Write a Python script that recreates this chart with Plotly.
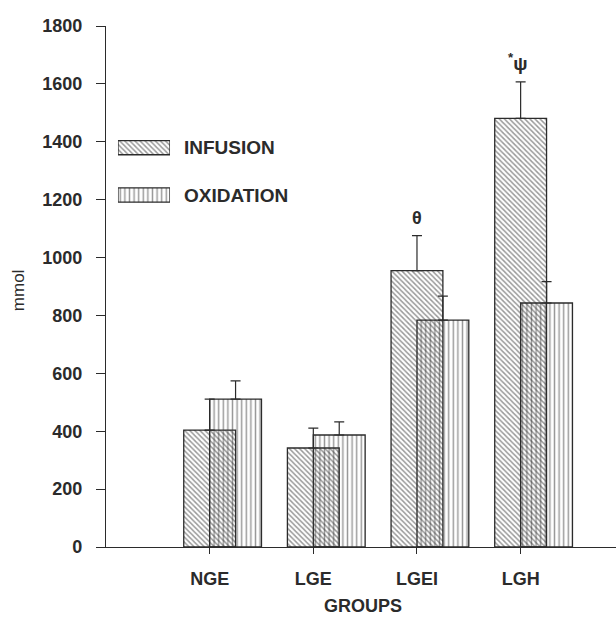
import plotly.graph_objects as go

groups = ["NGE", "LGE", "LGEI", "LGH"]
infusion = [404, 342, 955, 1481]
infusion_err = [107, 69, 121, 126]
oxidation = [511, 387, 784, 843]
oxidation_err = [63, 45, 83, 74]
series_names = ["INFUSION", "OXIDATION"]
y_ticks = list(range(0, 1801, 200))

INK = "#2b2b2b"
HATCH = "#333333"
FONT = "Liberation Sans"
pos = list(range(len(groups)))

diag = dict(shape="\\", size=3.6, solidity=0.42, fgcolor=HATCH, bgcolor="white")
vert = dict(shape="|", size=4.6, solidity=0.32, fgcolor=HATCH)

fig = go.Figure()
fig.add_trace(go.Bar(
    x=pos, y=infusion, offset=-0.25, width=0.5,
    marker=dict(color="white", line=dict(color=INK, width=1.3), pattern=diag),
    error_y=dict(type="data", array=infusion_err, arrayminus=[0]*4, symmetric=False,
                 color=INK, thickness=1.2, width=5),
    showlegend=False))
fig.add_trace(go.Bar(
    x=pos, y=oxidation, offset=0, width=0.5,
    marker=dict(color="rgba(0,0,0,0)", line=dict(color=INK, width=1.3),
                pattern=dict(vert, bgcolor="rgba(0,0,0,0)", fillmode="overlay")),
    error_y=dict(type="data", array=oxidation_err, arrayminus=[0]*4, symmetric=False,
                 color=INK, thickness=1.2, width=5),
    showlegend=False))

# legend swatches on an inset axis
fig.add_trace(go.Bar(
    x=[1], y=[1], orientation="h", width=0.3, xaxis="x2", yaxis="y2",
    marker=dict(color="white", line=dict(color=INK, width=1.3), pattern=diag),
    showlegend=False, hoverinfo="skip"))
fig.add_trace(go.Bar(
    x=[1], y=[0], orientation="h", width=0.3, xaxis="x2", yaxis="y2",
    marker=dict(color="white", line=dict(color=INK, width=1.3),
                pattern=dict(vert, bgcolor="white")),
    showlegend=False, hoverinfo="skip"))

bold = dict(family=FONT, size=18, color=INK, weight="bold")
legend_font = dict(family=FONT, size=19, color=INK, weight="bold")

annotations = [
    dict(x=0.149, y=1, xref="paper", yref="y2", text=series_names[0], showarrow=False,
         xanchor="left", yanchor="middle", font=legend_font),
    dict(x=0.149, y=0, xref="paper", yref="y2", text=series_names[1], showarrow=False,
         xanchor="left", yanchor="middle", font=legend_font),
    dict(x=2, y=1137, xref="x", yref="y", text="θ", showarrow=False,
         xanchor="center", yanchor="middle", font=bold),
    dict(x=2.97, y=1676, xref="x", yref="y", text="<sup>*</sup>ψ", showarrow=False,
         xanchor="center", yanchor="middle", font=dict(family=FONT, size=19, color=INK, weight="bold")),
    dict(x=-0.1725, y=0.493, xref="paper", yref="paper", text="mmol", showarrow=False,
         textangle=-90, xanchor="center", yanchor="middle",
         font=dict(family=FONT, size=17, color=INK)),
    dict(x=0.504, y=-0.113, xref="paper", yref="paper", text="GROUPS", showarrow=False,
         xanchor="center", yanchor="middle", font=bold),
]

fig.update_layout(
    width=616, height=623,
    margin=dict(l=106, r=0, t=26, b=76),
    paper_bgcolor="white", plot_bgcolor="white",
    barmode="overlay",
    annotations=annotations,
    xaxis=dict(range=[-1.0, 3.92], tickvals=pos, ticktext=groups,
               showline=True, linecolor=INK, linewidth=1.2,
               ticks="outside", ticklen=6, tickcolor=INK, tickwidth=1,
               showgrid=False, zeroline=False, tickfont=bold, ticklabelstandoff=9),
    yaxis=dict(range=[0, 1800], tickvals=y_ticks,
               showline=True, linecolor=INK, linewidth=1.2,
               ticks="outside", ticklen=9, tickcolor=INK, tickwidth=1,
               showgrid=False, zeroline=False, tickfont=bold, ticklabelstandoff=10),
    xaxis2=dict(domain=[0.0235, 0.1255], range=[0, 1], anchor="y2", visible=False),
    yaxis2=dict(domain=[0.630, 0.812], range=[-0.5, 1.5], anchor="x2", visible=False),
)

fig.write_html("out.html")
